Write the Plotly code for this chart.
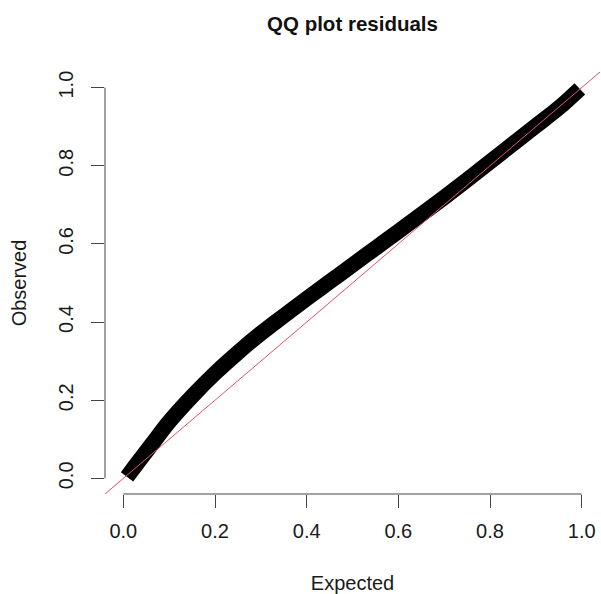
import plotly.graph_objects as go

# Data (centre of the plotted band)
expected = [0.008, 0.03, 0.06, 0.10, 0.15, 0.20, 0.25, 0.30, 0.35, 0.40, 0.45,
            0.50, 0.55, 0.60, 0.65, 0.70, 0.75, 0.80, 0.85, 0.90, 0.95, 0.996]
observed = [0.004, 0.038, 0.084, 0.145, 0.210, 0.269, 0.322, 0.371, 0.416, 0.460, 0.503,
            0.546, 0.589, 0.632, 0.675, 0.719, 0.764, 0.810, 0.856, 0.902, 0.948, 0.997]
tick_vals = [0.0, 0.2, 0.4, 0.6, 0.8, 1.0]
tick_text = ["0.0", "0.2", "0.4", "0.6", "0.8", "1.0"]
abline_intercept = 0.0
abline_slope = 1.0
axis_range = [-0.04, 1.04]

FONT = "Liberation Sans, Arial, sans-serif"
AX = "#444444"
TXT = "#1a1a1a"

fig = go.Figure()
fig.add_trace(go.Scatter(
    x=expected, y=observed, mode="lines",
    line=dict(color="black", width=15.5, shape="spline"),
    showlegend=False, hoverinfo="skip"))
ab_x = axis_range
ab_y = [abline_intercept + abline_slope * v for v in ab_x]
fig.add_trace(go.Scatter(
    x=ab_x, y=ab_y, mode="lines",
    line=dict(color="#DF536B", width=1),
    showlegend=False, hoverinfo="skip"))

axis_common = dict(
    range=axis_range, tickvals=tick_vals, ticktext=tick_text,
    ticks="outside", ticklen=13, tickwidth=1, tickcolor=AX,
    showline=False, showgrid=False, zeroline=False, automargin=False,
    tickfont=dict(family=FONT, size=20, color=TXT),
)
fig.update_xaxes(**axis_common, ticklabelstandoff=6,
                 title=dict(text="Expected", font=dict(family=FONT, size=20, color=TXT), standoff=35))
fig.update_yaxes(**axis_common, tickangle=-90, ticklabelstandoff=10,
                 title=dict(text="Observed", font=dict(family=FONT, size=20, color=TXT), standoff=23))

# R-style axis lines spanning only first to last tick
fig.add_shape(type="line", xref="x", yref="paper", x0=tick_vals[0], x1=tick_vals[-1], y0=0, y1=0,
              line=dict(color=AX, width=1))
fig.add_shape(type="line", xref="paper", yref="y", x0=0, x1=0, y0=tick_vals[0], y1=tick_vals[-1],
              line=dict(color=AX, width=1))

fig.update_layout(
    width=601, height=594,
    margin=dict(l=105, r=1, t=72, b=100),
    paper_bgcolor="white", plot_bgcolor="white",
    title=dict(text="<b>QQ plot residuals</b>", x=352.5 / 601, xanchor="center",
               y=1 - 24 / 594, yanchor="middle", yref="container",
               font=dict(family=FONT, size=20.5, color="#111111")),
)
fig.write_html("out.html", config={"displayModeBar": False},
               post_script="document.body.style.margin='0';document.body.style.overflow='hidden';")
